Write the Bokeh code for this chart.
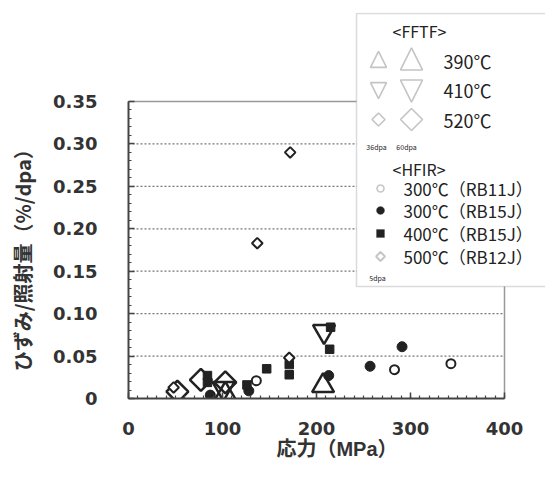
import numpy as np
from bokeh.plotting import figure
from bokeh.models import (Range1d, SingleIntervalTicker, CustomJSTickFormatter,
                          Label, BoxAnnotation, PolyAnnotation)
from bokeh.embed import file_html
from bokeh.resources import INLINE

# ---------------- data (stress MPa, strain / dose %/dpa) ----------------
# FFTF, 60 dpa (large symbols)
fftf390_x = [103, 207]
fftf390_y = [0.005, 0.015]
fftf410_x = [101, 208]
fftf410_y = [0.012, 0.079]
fftf520_x = [52, 77, 103]
fftf520_y = [0.008, 0.022, 0.019]
# HFIR
rb11j_300_x = [136, 283, 343]
rb11j_300_y = [0.021, 0.034, 0.041]
rb15j_300_x = [87, 128, 213, 257, 291]
rb15j_300_y = [0.004, 0.009, 0.027, 0.038, 0.061]
rb15j_400_x = [84, 84, 126, 147, 171, 171, 214, 215]
rb15j_400_y = [0.027, 0.019, 0.016, 0.035, 0.040, 0.028, 0.058, 0.084]
rb12j_500_x = [48, 137, 172, 171]
rb12j_500_y = [0.013, 0.183, 0.290, 0.048]

x_ticks = [0, 100, 200, 300, 400]
y_ticks = [0, 0.05, 0.10, 0.15, 0.20, 0.25, 0.30, 0.35]

x_title = "応力（MPa）"
y_title = "ひずみ/照射量（%/dpa）"
fftf_title = "<FFTF>"
fftf_labels = ["390℃", "410℃", "520℃"]
hfir_title = "<HFIR>"
hfir_labels = ["300℃（RB11J）", "300℃（RB15J）", "400℃（RB15J）", "500℃（RB12J）"]

# ---------------- geometry ----------------
W, H = 545, 471
BL, BR, BT, BB = 128, 0, 12, 73
# the visible chart box (canvas px): x 128..504, y 101..398 ; the Bokeh frame is
# extended up/right so that the legend box can overlap outside the chart box
CH_L, CH_R, CH_T, CH_B = 128, 504, 101, 398
xs0, xs1 = x_ticks[0], x_ticks[-1]
ys0, ys1 = y_ticks[0], y_ticks[-1]
x_end = xs0 + (W - BR - CH_L) / (CH_R - CH_L) * (xs1 - xs0)
y_end = ys0 + (CH_B - BT) / (CH_B - CH_T) * (ys1 - ys0)

p = figure(width=W, height=H, output_backend="svg", toolbar_location=None,
           x_range=Range1d(xs0, x_end), y_range=Range1d(ys0, y_end),
           min_border_left=BL, min_border_right=BR, min_border_top=BT, min_border_bottom=BB)
p.background_fill_color = "white"
p.border_fill_color = "white"
p.outline_line_color = None

def cx(px):
    return (px - CH_L) / (CH_R - CH_L) * (xs1 - xs0) + xs0
def cy(py):
    return (CH_B - py) / (CH_B - CH_T) * (ys1 - ys0) + ys0

p.xaxis.ticker = SingleIntervalTicker(interval=100, num_minor_ticks=10)
p.yaxis.ticker = SingleIntervalTicker(interval=0.05, num_minor_ticks=5)
p.xaxis.bounds = (xs0, xs1)
p.yaxis.bounds = (ys0, ys1 + 1e-6)
p.yaxis.formatter = CustomJSTickFormatter(code="return Math.abs(tick) < 1e-9 ? '0' : tick.toFixed(2);")

for ax in (p.xaxis, p.yaxis):
    ax.axis_line_color = "#444444"
    ax.axis_line_width = 2
    ax.major_tick_in = 6
    ax.major_tick_out = 0
    ax.minor_tick_in = 3
    ax.minor_tick_out = 0
    ax.major_tick_line_color = "#444444"
    ax.minor_tick_line_color = "#444444"
    ax.major_tick_line_width = 1.5
    ax.minor_tick_line_width = 1.2
    ax.major_label_text_font = "DejaVu Sans"
    ax.major_label_text_font_style = "bold"
    ax.major_label_text_font_size = "18px"
    ax.major_label_text_color = "#333333"
    ax.axis_label_text_font_style = "bold"
    ax.axis_label_text_font_size = "20px"
    ax.axis_label_text_color = "#333333"

# x label: metrics taken from Liberation Sans (compact), CJK glyphs fall back to Noto CJK
p.xaxis.axis_label_text_font = "Liberation Sans, Noto Sans CJK JP"
p.yaxis.axis_label_text_font = "Noto Sans CJK JP"
p.xaxis.axis_label = x_title
# trailing ideographic spaces move the (frame-centred) rotated label down
p.yaxis.axis_label = y_title + "\u3000" * 5 + "\u2002"
p.xaxis.major_label_standoff = 23
p.yaxis.major_label_standoff = 31
p.xaxis.axis_label_standoff = 0
p.yaxis.axis_label_standoff = 13

p.xgrid.grid_line_color = None
p.ygrid.grid_line_color = None

INK = "#222222"
# dotted horizontal grid lines and the grey top/right edges of the chart box
p.segment(x0=[xs0] * (len(y_ticks) - 2), x1=[xs1] * (len(y_ticks) - 2),
          y0=y_ticks[1:-1], y1=y_ticks[1:-1],
          line_color="#777777", line_dash="2 2", line_width=1.3)
p.segment(x0=[xs0, xs1], x1=[xs1, xs1], y0=[ys1, ys0], y1=[ys1, ys1],
          line_color="#999999", line_width=1.5)

# FFTF large symbols
p.scatter(fftf520_x, fftf520_y, marker="square", angle=np.pi / 4, size=15.5,
          fill_color=None, line_color=INK, line_width=2.5)
p.scatter(fftf410_x, fftf410_y, marker="inverted_triangle", size=22,
          fill_color=None, line_color=INK, line_width=2.5)
p.scatter(fftf390_x, fftf390_y, marker="triangle", size=22,
          fill_color=None, line_color=INK, line_width=2.5)
# HFIR
p.scatter(rb11j_300_x, rb11j_300_y, marker="circle", size=9,
          fill_color="white", line_color=INK, line_width=2)
p.scatter(rb15j_300_x, rb15j_300_y, marker="circle", size=10,
          fill_color=INK, line_color=INK, line_width=1)
p.scatter(rb15j_400_x, rb15j_400_y, marker="square", size=8.5,
          fill_color=INK, line_color=INK, line_width=1)
p.scatter(rb12j_500_x, rb12j_500_y, marker="square", angle=np.pi / 4, size=7.5,
          fill_color="white", line_color=INK, line_width=2)

# ---------------- legend (drawn as annotations) ----------------
box = BoxAnnotation(left=cx(356), right=cx(W + 20), top=cy(BT + 1), bottom=cy(286),
                    fill_color="white", fill_alpha=1.0,
                    line_color="#888888", line_width=1.5, level="overlay")
p.add_layout(box)

def poly(kind, px, py, s, fill=None, lw=1.5):
    if kind == "tri":
        pts = [(-s / 2, s * 0.43), (s / 2, s * 0.43), (0, -s * 0.57)]
    elif kind == "itri":
        pts = [(-s / 2, -s * 0.43), (s / 2, -s * 0.43), (0, s * 0.57)]
    elif kind == "dia":
        pts = [(0, -s / 2), (s / 2, 0), (0, s / 2), (-s / 2, 0)]
    elif kind == "sq":
        pts = [(-s / 2, -s / 2), (s / 2, -s / 2), (s / 2, s / 2), (-s / 2, s / 2)]
    else:  # circle
        t = np.linspace(0, 2 * np.pi, 24, endpoint=False)
        pts = list(zip(s / 2 * np.cos(t), s / 2 * np.sin(t)))
    xs = [cx(px + a) for a, b in pts]
    ys = [cy(py + b) for a, b in pts]
    p.add_layout(PolyAnnotation(xs=xs, ys=ys, fill_color=fill if fill else "white",
                                fill_alpha=1.0, line_color="#3a3a3a", line_width=lw,
                                level="overlay"))

def txt(s, px, py, size, align="left"):
    p.add_layout(Label(x=cx(px), y=cy(py), text=s, text_font="Noto Sans CJK JP",
                       text_font_size=f"{size}px", text_color="#222222",
                       text_align=align, text_baseline="middle", level="overlay"))

txt(fftf_title, 392, 30, 16)
rows = [60, 89, 119]
kinds = ["tri", "itri", "dia"]
for k, ry, lab in zip(kinds, rows, fftf_labels):
    small = 13 if k == "dia" else 16
    big = 22
    poly(k, 378, ry, small, lw=1.6)
    poly(k, 411, ry, big, lw=1.6)
    txt(lab, 443, ry, 18)
txt("36dpa", 376, 146, 7, "center")
txt("60dpa", 406, 146, 7, "center")
txt(hfir_title, 392, 168, 16)
hrows = [188, 210, 233, 256]
poly("circ", 380, hrows[0], 7, lw=1.5)
poly("circ", 380, hrows[1], 8, fill=INK, lw=1)
poly("sq", 380, hrows[2], 8, fill=INK, lw=1)
poly("dia", 380, hrows[3], 9, lw=1.8)
for ry, lab in zip(hrows, hfir_labels):
    txt(lab, 403, ry, 17)
txt("5dpa", 377, 277, 7, "center")

open("out.html", "w").write(file_html(p, INLINE))
